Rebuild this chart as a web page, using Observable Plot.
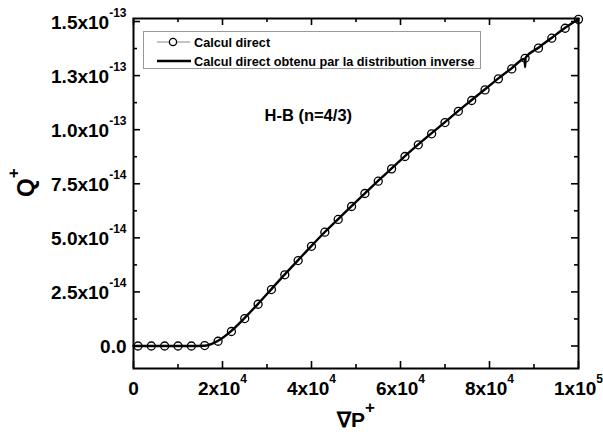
<!DOCTYPE html>
<html><head><meta charset="utf-8">
<script src="https://cdn.jsdelivr.net/npm/d3@7"></script>
<script src="https://cdn.jsdelivr.net/npm/@observablehq/plot@0.6"></script>
<style>body{margin:0;background:#fff;}</style>
</head><body><div id="chart"></div>
<script>
// ---- data ----
const gradP = [1000, 4000, 7000, 10000, 13000, 16000, 19000, 22000, 25000, 28000, 31000, 34000,
  37000, 40000, 43000, 46000, 49000, 52000, 55000, 58000, 61000, 64000, 67000, 70000, 73000,
  76000, 79000, 82000, 85000, 88000, 91000, 94000, 97000, 100000];
const qDirect = [0, 0, 0, 0, 0, 0.02e-14, 0.22e-14, 0.67e-14, 1.27e-14, 1.93e-14, 2.61e-14, 3.29e-14,
  3.95e-14, 4.61e-14, 5.26e-14, 5.85e-14, 6.45e-14, 7.05e-14, 7.62e-14, 8.19e-14, 8.76e-14, 9.30e-14, 9.81e-14, 10.33e-14, 10.85e-14,
  11.35e-14, 11.84e-14, 12.35e-14, 12.81e-14, 13.30e-14, 13.77e-14, 14.23e-14, 14.69e-14, 15.10e-14];
const lineGradP = [0, 4000, 8000, 12000, 16000, 17500, 19000, 22000, 25000, 28000, 31000, 34000,
  37000, 40000, 43000, 46000, 49000, 52000, 55000, 58000, 61000, 64000, 67000, 70000, 73000,
  76000, 79000, 82000, 85000, 87900, 88000, 88100, 91000, 94000, 97000, 100000];
const qInverse = [0, 0, 0, 0, 0.01e-14, 0.09e-14, 0.24e-14, 0.70e-14, 1.30e-14, 1.95e-14, 2.63e-14, 3.31e-14,
  3.97e-14, 4.63e-14, 5.27e-14, 5.87e-14, 6.47e-14, 7.06e-14, 7.64e-14, 8.21e-14, 8.78e-14, 9.32e-14, 9.84e-14, 10.35e-14, 10.87e-14,
  11.37e-14, 11.87e-14, 12.37e-14, 12.84e-14, 13.28e-14, 12.90e-14, 13.32e-14, 13.79e-14, 14.25e-14, 14.71e-14, 15.12e-14];
const seriesNames = ["Calcul direct", "Calcul direct obtenu par la distribution inverse"];
const annotation = ["H-B (n=4/3)"];
const xTicks = [0, 20000, 40000, 60000, 80000, 100000];
const xTickLabels = ["0", "2x10^4", "4x10^4", "6x10^4", "8x10^4", "1x10^5"];
const xMinorTicks = [10000, 30000, 50000, 70000, 90000];
const yTicks = [0, 2.5e-14, 5e-14, 7.5e-14, 1e-13, 1.25e-13, 1.5e-13];
const yTickLabels = ["0.0", "2.5x10^-14", "5.0x10^-14", "7.5x10^-14", "1.0x10^-13", "1.3x10^-13", "1.5x10^-13"];
const yMinorTicks = [1.25e-14, 3.75e-14, 6.25e-14, 8.75e-14, 1.125e-13, 1.375e-13];
const xLabel = "\u2207P^+";
const yLabel = "Q^+";

// ---- build ----
const direct = gradP.map((x, i) => ({x, y: qDirect[i]}));
const inverse = lineGradP.map((x, i) => ({x, y: qInverse[i]}));

const W = 603, H = 432, mL = 133, mR = 25, mT = 18, mB = 64;
const fh = H - mT - mB, fw = W - mL - mR;
const majorLen = 7, minorLen = 4;
const tickStyle = {stroke: "#000", strokeWidth: 1.6};

const plot = Plot.plot({
  width: W, height: H,
  marginLeft: mL, marginRight: mR, marginTop: mT, marginBottom: mB,
  style: {fontFamily: "'Liberation Sans', Arial, sans-serif", background: "#fff", color: "#000"},
  x: {domain: [0, 100000]},
  y: {domain: [-1.04e-14, 1.514e-13]},
  marks: [
    Plot.line(direct, {x: "x", y: "y", stroke: "#888", strokeWidth: 1}),
    Plot.dot(direct, {x: "x", y: "y", r: 4, stroke: "#000", strokeWidth: 1.3, fill: "none"}),
    Plot.line(inverse, {x: "x", y: "y", stroke: "#000", strokeWidth: 2.4, curve: "monotone-x"}),
    // inward ticks on all four sides
    Plot.ruleX(xTicks, {insetTop: fh - majorLen, ...tickStyle}),
    Plot.ruleX(xMinorTicks, {insetTop: fh - minorLen, ...tickStyle}),
    Plot.ruleX(xTicks, {insetBottom: fh - majorLen, ...tickStyle}),
    Plot.ruleX(xMinorTicks, {insetBottom: fh - minorLen, ...tickStyle}),
    Plot.ruleY(yTicks, {insetRight: fw - majorLen, ...tickStyle}),
    Plot.ruleY(yMinorTicks, {insetRight: fw - minorLen, ...tickStyle}),
    Plot.ruleY(yTicks, {insetLeft: fw - majorLen, ...tickStyle}),
    Plot.ruleY(yMinorTicks, {insetLeft: fw - minorLen, ...tickStyle}),
    Plot.frame({stroke: "#000", strokeWidth: 2}),
    Plot.axisX({ticks: xTicks, tickSize: 0, tickPadding: 13, label: null,
      tickFormat: d => xTickLabels[xTicks.indexOf(d)], fontSize: 19, fontWeight: "bold"}),
    Plot.axisY({ticks: yTicks, tickSize: 0, tickPadding: 7, label: null,
      tickFormat: d => yTickLabels[yTicks.indexOf(d)], fontSize: 19, fontWeight: "bold", dy: 1}),
    Plot.text(annotation, {frameAnchor: "top-left", dx: 131, dy: 97, textAnchor: "start",
      lineAnchor: "middle", fontSize: 16.5, fontWeight: "bold", fill: "#000"})
  ]
});
document.getElementById("chart").appendChild(plot);

const svg = d3.select(plot);
// axis titles
svg.append("text").attr("class", "ttl").attr("data-raise", 15).attr("data-sup", 17).attr("text-anchor", "start")
  .attr("transform", "translate(34,197) rotate(-90)")
  .attr("font-size", 24).attr("font-weight", "bold").attr("fill", "#000").text(yLabel);
svg.append("text").attr("class", "ttl").attr("data-raise", 14).attr("data-sup", 17).attr("text-anchor", "start")
  .attr("x", 337).attr("y", 427)
  .attr("font-size", 21).attr("font-weight", "bold").attr("fill", "#000").text(xLabel);

// legend
const lg = svg.append("g").attr("text-anchor", "start");
lg.append("rect").attr("x", 143.5).attr("y", 31.5).attr("width", 337).attr("height", 37)
  .attr("fill", "#fff").attr("stroke", "#999").attr("stroke-width", 1);
lg.append("line").attr("x1", 157).attr("x2", 169).attr("y1", 42).attr("y2", 42).attr("stroke", "#888");
lg.append("line").attr("x1", 177).attr("x2", 190).attr("y1", 42).attr("y2", 42).attr("stroke", "#888");
lg.append("circle").attr("cx", 173).attr("cy", 42).attr("r", 3.6).attr("fill", "none")
  .attr("stroke", "#000").attr("stroke-width", 1.3);
lg.append("line").attr("x1", 157).attr("x2", 191).attr("y1", 61).attr("y2", 61)
  .attr("stroke", "#000").attr("stroke-width", 2.6);
seriesNames.forEach((s, i) => {
  lg.append("text").attr("x", 194).attr("y", 46.5 + i * 19).attr("font-size", 12.7)
    .attr("text-anchor", "start")
    .attr("font-weight", "bold").attr("fill", "#000").text(s);
});

// superscripts
svg.selectAll("text").each(function () {
  const t = this.textContent, k = t.indexOf("^");
  if (k < 0) return;
  const el = d3.select(this);
  const fs = parseFloat(getComputedStyle(this).fontSize) || 19;
  const raise = this.getAttribute("data-raise") ? +this.getAttribute("data-raise") : fs * 0.62;
  const supSize = this.getAttribute("data-sup") ? +this.getAttribute("data-sup") : Math.round(fs * 0.63);
  el.text(null);
  el.append("tspan").text(t.slice(0, k));
  el.append("tspan").attr("dy", -raise).attr("font-size", supSize).text(t.slice(k + 1));
});
</script>
</body></html>
